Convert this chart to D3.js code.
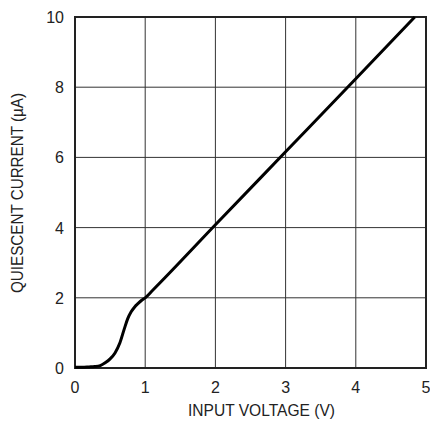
<!DOCTYPE html>
<html><head><meta charset="utf-8">
<script src="https://cdn.jsdelivr.net/npm/d3@7"></script>
<style>body{margin:0;background:#fff}text{font-family:"Liberation Sans Narrow","Arial Narrow","Liberation Sans",Arial,sans-serif;fill:#222}</style>
</head><body><svg id="c" width="430" height="425"></svg>
<script>
const xTicks = [0,1,2,3,4,5];
const yTicks = [0,2,4,6,8,10];
const voltage = [0,0.1,0.2,0.28,0.36,0.43,0.5,0.57,0.64,0.7,0.75,0.8,0.85,0.9,0.95,1.0,1.1,2,3,4,4.84];
const current = [0.02,0.02,0.03,0.04,0.07,0.15,0.26,0.43,0.72,1.1,1.4,1.6,1.74,1.84,1.93,2.0,2.2,4.08,6.16,8.24,10];
const xTitle = "INPUT VOLTAGE (V)";
const yTitle = "QUIESCENT CURRENT (\u00b5A)";

const svg = d3.select("#c");
const L=75,R=426,T=17,B=368;
const x = d3.scaleLinear().domain([0,5]).range([L,R]);
const y = d3.scaleLinear().domain([0,10]).range([B,T]);

svg.append("g").selectAll("line").data(xTicks.slice(1,-1)).join("line")
  .attr("x1",d=>x(d)).attr("x2",d=>x(d)).attr("y1",T).attr("y2",B)
  .attr("stroke","#333").attr("stroke-width",1);
svg.append("g").selectAll("line").data(yTicks.slice(1,-1)).join("line")
  .attr("y1",d=>y(d)).attr("y2",d=>y(d)).attr("x1",L).attr("x2",R)
  .attr("stroke","#333").attr("stroke-width",1);
svg.append("rect").attr("x",L).attr("y",T).attr("width",R-L).attr("height",B-T)
  .attr("fill","none").attr("stroke","#222").attr("stroke-width",2);

svg.append("g").selectAll("text").data(xTicks).join("text")
  .attr("x",d=>x(d)).attr("y",B+25).attr("text-anchor","middle")
  .attr("font-size",16).text(d=>d);
svg.append("g").selectAll("text").data(yTicks).join("text")
  .attr("x",L-11).attr("y",d=>y(d)+6).attr("text-anchor","end")
  .attr("font-size",16).text(d=>d);

svg.append("text").attr("x",188).attr("y",416)
  .attr("font-size",16).attr("textLength",147).attr("lengthAdjust","spacingAndGlyphs").text(xTitle);
svg.append("text").attr("transform",`translate(23,293) rotate(-90)`)
  .attr("font-size",16).attr("textLength",200).attr("lengthAdjust","spacingAndGlyphs").text(yTitle);

const pts = voltage.map((v,i)=>[v,current[i]]);
svg.append("path").datum(pts)
  .attr("d",d3.line().x(d=>x(d[0])).y(d=>y(d[1])).curve(d3.curveMonotoneX))
  .attr("fill","none").attr("stroke","#000").attr("stroke-width",3);
</script></body></html>
